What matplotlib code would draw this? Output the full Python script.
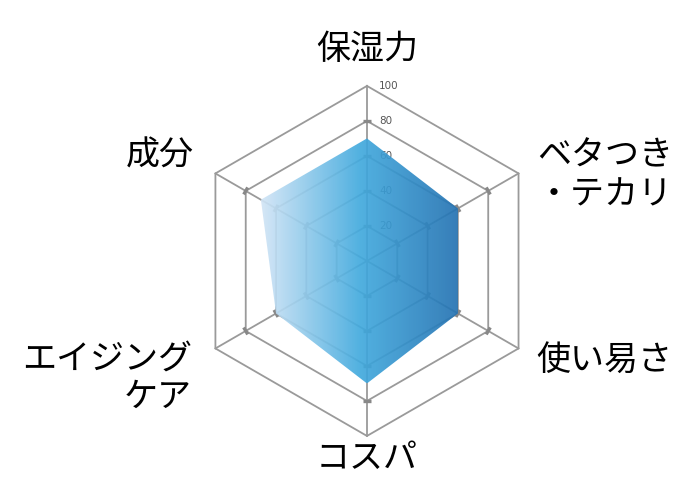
import numpy as np
import matplotlib.pyplot as plt
from matplotlib.colors import LinearSegmentedColormap
from matplotlib.patches import Polygon

plt.rcParams['font.family'] = ['Noto Sans CJK JP', 'DejaVu Sans']

labels = ['保湿力', 'ベタつき\n・テカリ', '使い易さ', 'コスパ', 'エイジング\nケア', '成分']
values = [70, 60, 60, 70, 60, 70]
levels = [20, 40, 60, 80, 100]
tick_labels = ['20', '40', '60', '80', '100']

# axes start at the top and go clockwise
angles = np.pi / 2 - np.arange(len(labels)) * 2 * np.pi / len(labels)
cos_a, sin_a = np.cos(angles), np.sin(angles)

fig = plt.figure(figsize=(7, 5), dpi=100)
ax = fig.add_axes((0, 0, 1, 1))
ax.set_xlim(-209.7, 190.3)
ax.set_ylim(-136.6, 149.1)
ax.set_aspect('equal')
ax.axis('off')

grid_col = '#9a9a9a'

# hexagon rings
for lv in levels:
    xs = np.append(lv * cos_a, lv * cos_a[0])
    ys = np.append(lv * sin_a, lv * sin_a[0])
    ax.plot(xs, ys, color=grid_col, lw=1.3, zorder=1)

# spokes and small tick marks
for c, s in zip(cos_a, sin_a):
    ax.plot([0, levels[-1] * c], [0, levels[-1] * s], color=grid_col, lw=1.3, zorder=1)
    for lv in levels[:-1]:
        px, py = -s * 2.3, c * 2.3
        ax.plot([lv * c - px, lv * c + px], [lv * s - py, lv * s + py],
                color='#888888', lw=2.4, solid_capstyle='butt', zorder=1)

for lv, t in zip(levels, tick_labels):
    ax.text(7, lv, t, fontsize=7.5, color='#555555', ha='left', va='center',
            family='DejaVu Sans', zorder=1)

# data polygon with horizontal gradient
px_ = np.array(values) * cos_a
py_ = np.array(values) * sin_a
poly = Polygon(np.column_stack([px_, py_]), closed=True, facecolor='none',
               edgecolor='none', zorder=2)
ax.add_patch(poly)
cmap = LinearSegmentedColormap.from_list(
    'g', [(0, '#d2e5f6'), (0.5, '#42aade'), (1, '#2472b2')])
grad = np.linspace(0, 1, 256).reshape(1, -1)
img = ax.imshow(grad, cmap=cmap, aspect='auto', alpha=0.92,
                extent=(px_.min(), px_.max(), py_.min(), py_.max()), zorder=2)
img.set_clip_path(poly)

# category labels
fs = 24.5
ax.text(0, 121, labels[0], fontsize=fs, ha='center', va='center')
ax.text(97, 49, labels[1], fontsize=fs, ha='left', va='center', linespacing=1.15)
ax.text(97, -57, labels[2], fontsize=fs, ha='left', va='center')
ax.text(0, -113, labels[3], fontsize=fs, ha='center', va='center')
ax.text(-100, -67, labels[4], fontsize=fs, ha='right', va='center',
        multialignment='right', linespacing=1.15)
ax.text(-99, 60, labels[5], fontsize=fs, ha='right', va='center')

fig.savefig('out.png', dpi=100)
